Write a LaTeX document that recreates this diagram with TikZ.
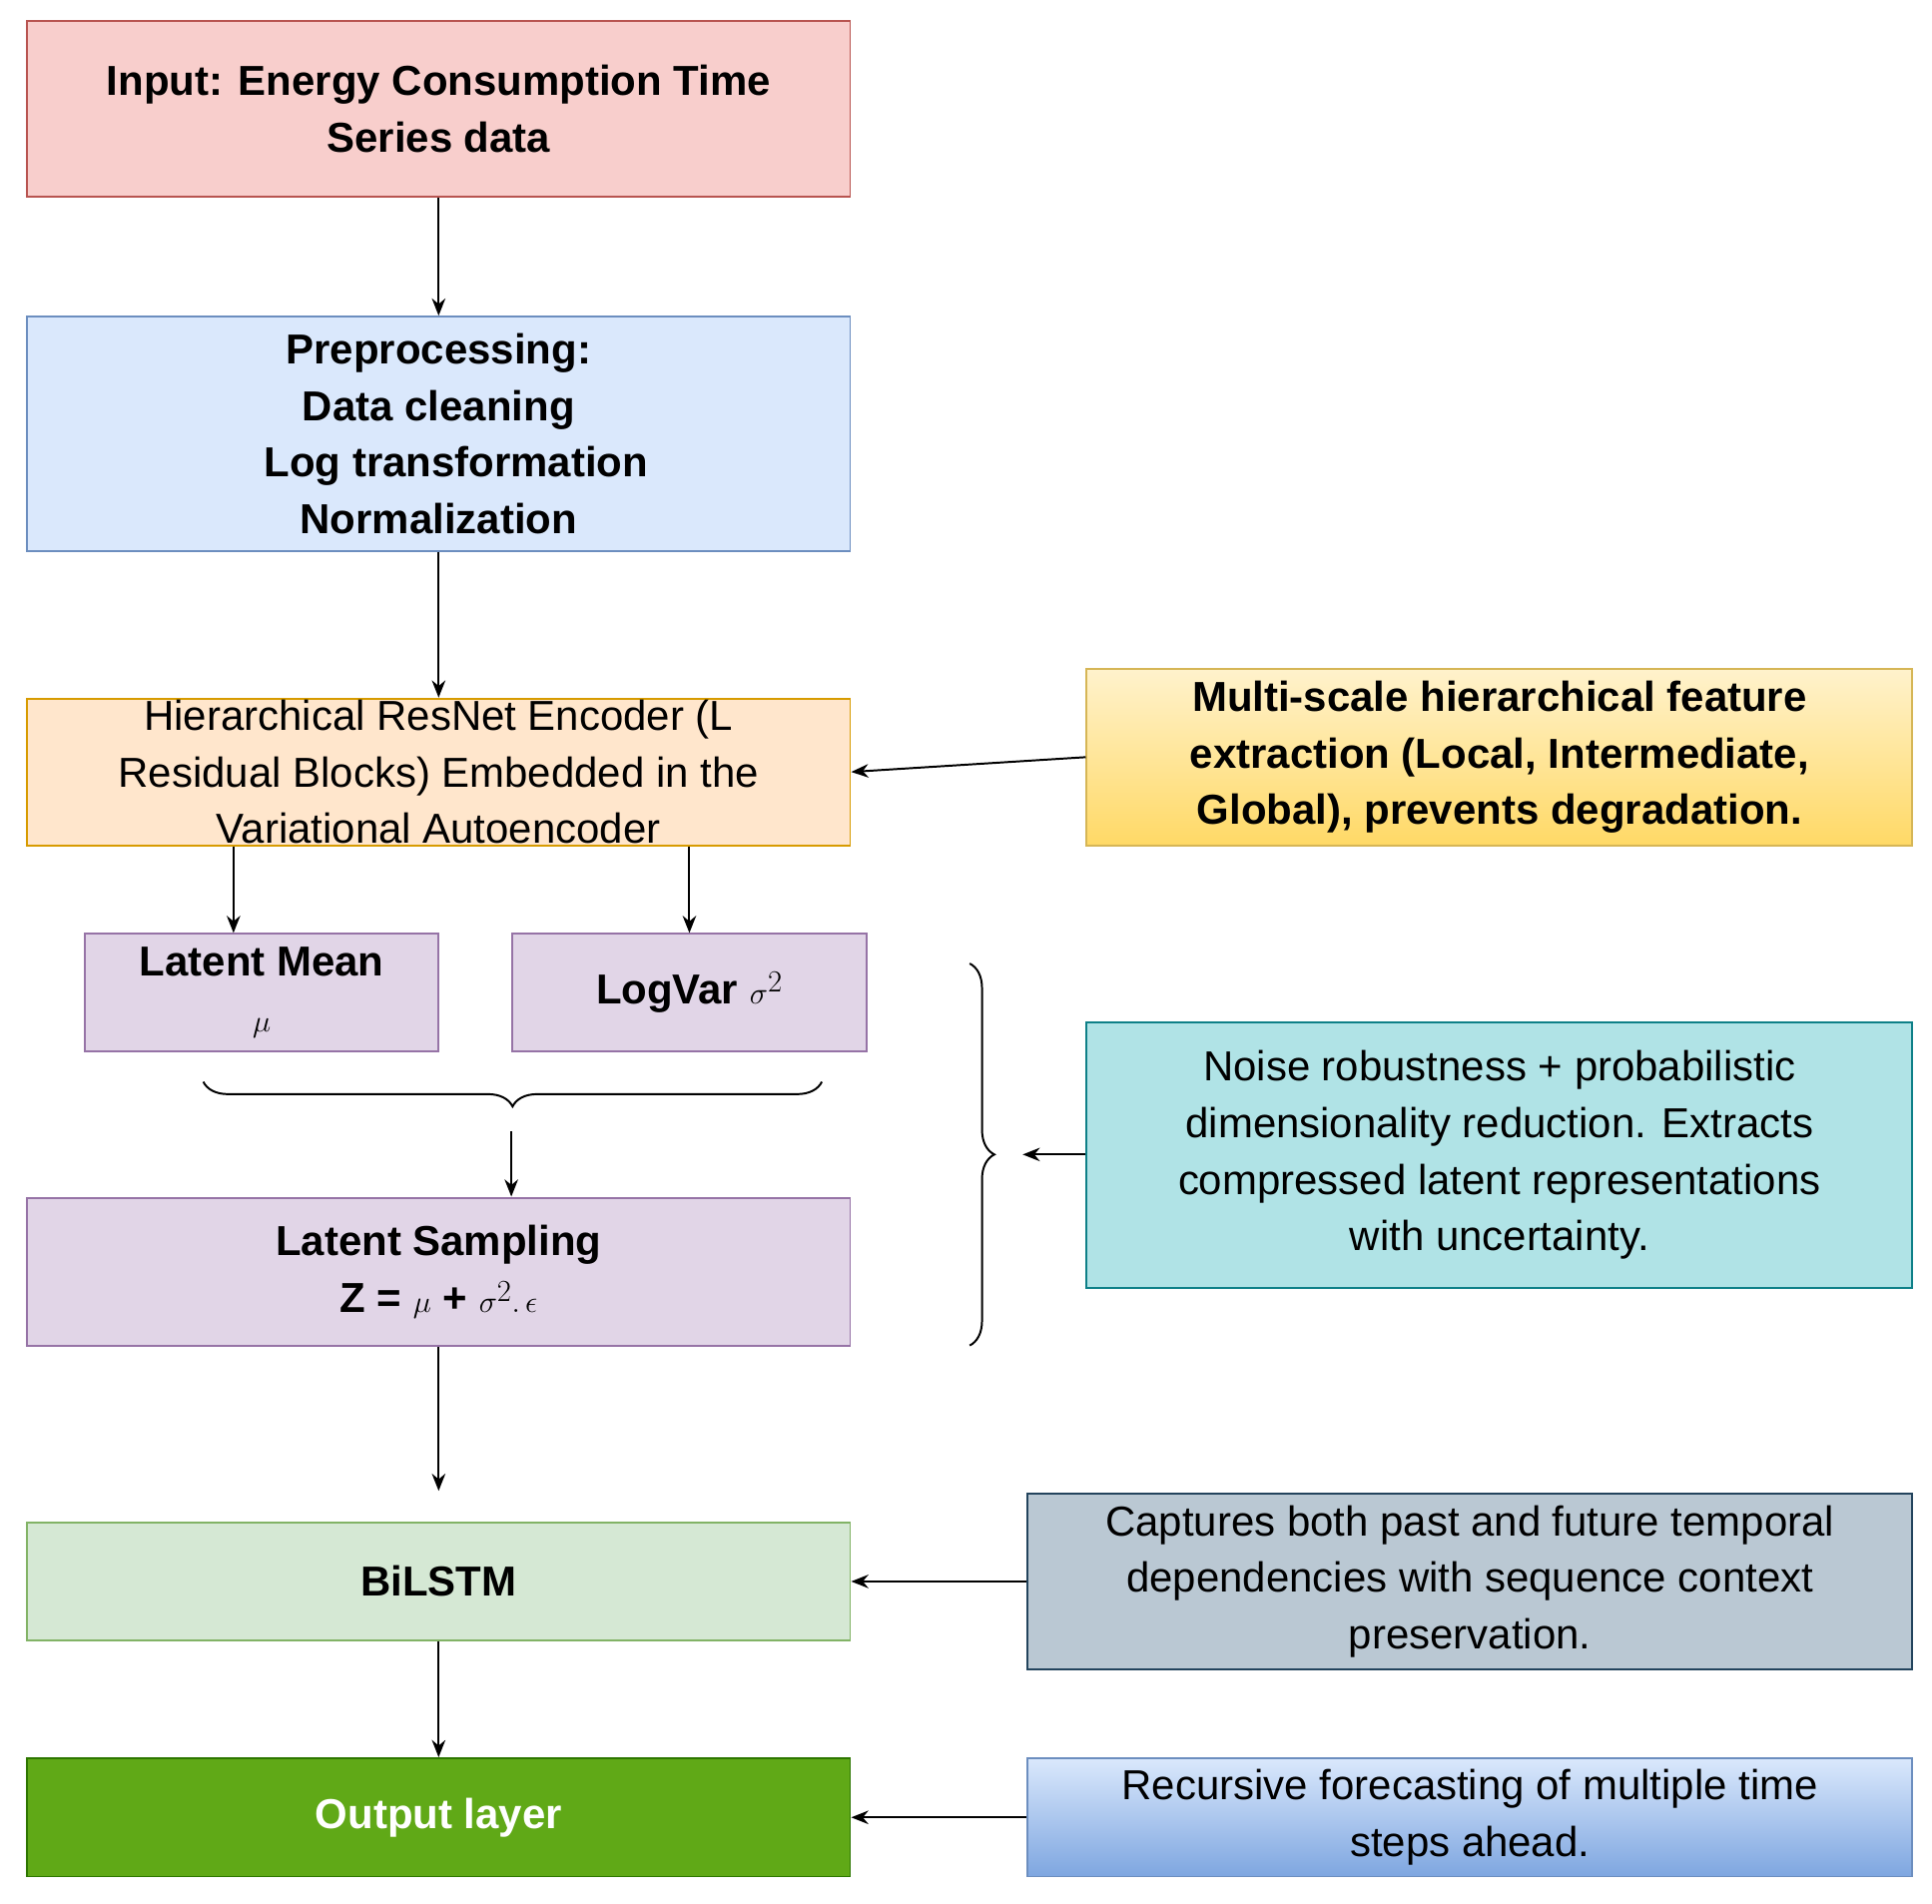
\documentclass[tikz,border=0pt]{standalone}
\usepackage{fontspec}
\setmainfont{Liberation Sans}
\usetikzlibrary{arrows.meta,decorations.pathreplacing}
\definecolor{inF}{HTML}{F8CECC}\definecolor{inD}{HTML}{B85450}
\definecolor{blF}{HTML}{DAE8FC}\definecolor{blD}{HTML}{6C8EBF}
\definecolor{orF}{HTML}{FFE6CC}\definecolor{orD}{HTML}{D79B00}
\definecolor{ylA}{HTML}{FFF2CC}\definecolor{ylB}{HTML}{FFD966}\definecolor{ylD}{HTML}{D6B656}
\definecolor{puF}{HTML}{E1D5E7}\definecolor{puD}{HTML}{9673A6}
\definecolor{teF}{HTML}{B0E3E6}\definecolor{teD}{HTML}{0E8088}
\definecolor{grF}{HTML}{D5E8D4}\definecolor{grD}{HTML}{82B366}
\definecolor{gyF}{HTML}{BAC8D3}\definecolor{gyD}{HTML}{23445D}
\definecolor{ouF}{HTML}{60A917}\definecolor{ouD}{HTML}{2D7600}
\definecolor{bbB}{HTML}{7EA6E0}
\tikzset{
 box/.style={draw,line width=1.6pt,align=center,inner sep=0pt,font=\fontsize{34}{46}\selectfont},
 bx/.style={box,font=\bfseries\fontsize{34}{46}\selectfont},
 arr/.style={-{Stealth[length=14pt,width=11pt]},line width=1.6pt},
 brc/.style={line width=1.6pt,decorate,decoration={brace,amplitude=20pt}}
}
\newcommand{\bxat}[6]{% name, x1,y1,x2,y2, style
 \node[#6,minimum width={(#4-#2)*1pt},minimum height={(#5-#3)*1pt}] (#1) at ({(#2+#4)/2},{(#3+#5)/2})}
\begin{document}
\begin{tikzpicture}[x=1pt,y=-1pt]
\useasboundingbox[fill=white] (0,0) rectangle (1568,1545);
\bxat{in}{22}{17}{690}{160}{bx,fill=inF,draw=inD} {Input: Energy Consumption Time\\Series data};
\bxat{pre}{22}{257}{690}{447}{bx,fill=blF,draw=blD} {Preprocessing:\\Data cleaning\\\ \ \ Log transformation\\Normalization};
\bxat{enc}{22}{567}{690}{686}{box,fill=orF,draw=orD} {Hierarchical ResNet Encoder (L\\Residual Blocks) Embedded in the\\Variational Autoencoder};
\bxat{ms}{882}{543}{1552}{686}{bx,top color=ylA,bottom color=ylB,draw=ylD} {Multi-scale hierarchical feature\\extraction (Local, Intermediate,\\Global), prevents degradation.};
\bxat{mu}{69}{758}{356}{853}{bx,fill=puF,draw=puD} {Latent Mean\\$\mu$};
\bxat{lv}{416}{758}{703}{853}{bx,fill=puF,draw=puD} {LogVar $\sigma^2$};
\bxat{ls}{22}{972}{690}{1092}{bx,fill=puF,draw=puD} {Latent Sampling\\Z = $\mu$ + $\sigma^2 .\,\epsilon$};
\bxat{te}{882}{830}{1552}{1045}{box,fill=teF,draw=teD} {Noise robustness + probabilistic\\dimensionality reduction. Extracts\\compressed latent representations\\with uncertainty.};
\bxat{bi}{22}{1236}{690}{1331}{bx,fill=grF,draw=grD} {BiLSTM};
\bxat{gy}{834}{1212}{1552}{1355}{box,fill=gyF,draw=gyD} {Captures both past and future temporal\\dependencies with sequence context\\preservation.};
\bxat{out}{22}{1427}{690}{1523}{bx,fill=ouF,draw=ouD,text=white} {Output layer};
\bxat{rf}{834}{1427}{1552}{1523}{box,top color=blF,bottom color=bbB,draw=blD} {Recursive forecasting of multiple time\\steps ahead.};
% connectors
\draw[arr] (in.south) -- (pre.north);
\draw[arr] (pre.south) -- (enc.north);
\draw[arr] (ms.west) -- (enc.east);
\draw[arr] (enc.south -| mu.north) ++(-23,0) coordinate (e1) -- (e1 |- mu.north);
\draw[arr] (enc.south -| lv.north) coordinate (e2) -- (lv.north);
\draw[brc] (667,878) -- (165,878) coordinate[pos=0.5] (b1);
\coordinate (b1t) at (415,918);
\draw[arr] (b1t) -- (b1t |- ls.north);
\draw[brc] (787,782) -- (787,1092);
\coordinate (b2t) at (830,937);
\draw[arr] (te.west |- b2t) -- (b2t);
\coordinate (bit) at (356,1210);
\draw[arr] (ls.south) -- (bit);
\draw[arr] (gy.west) -- (bi.east);
\draw[arr] (bi.south) -- (out.north);
\draw[arr] (rf.west) -- (out.east);
\end{tikzpicture}
\end{document}
